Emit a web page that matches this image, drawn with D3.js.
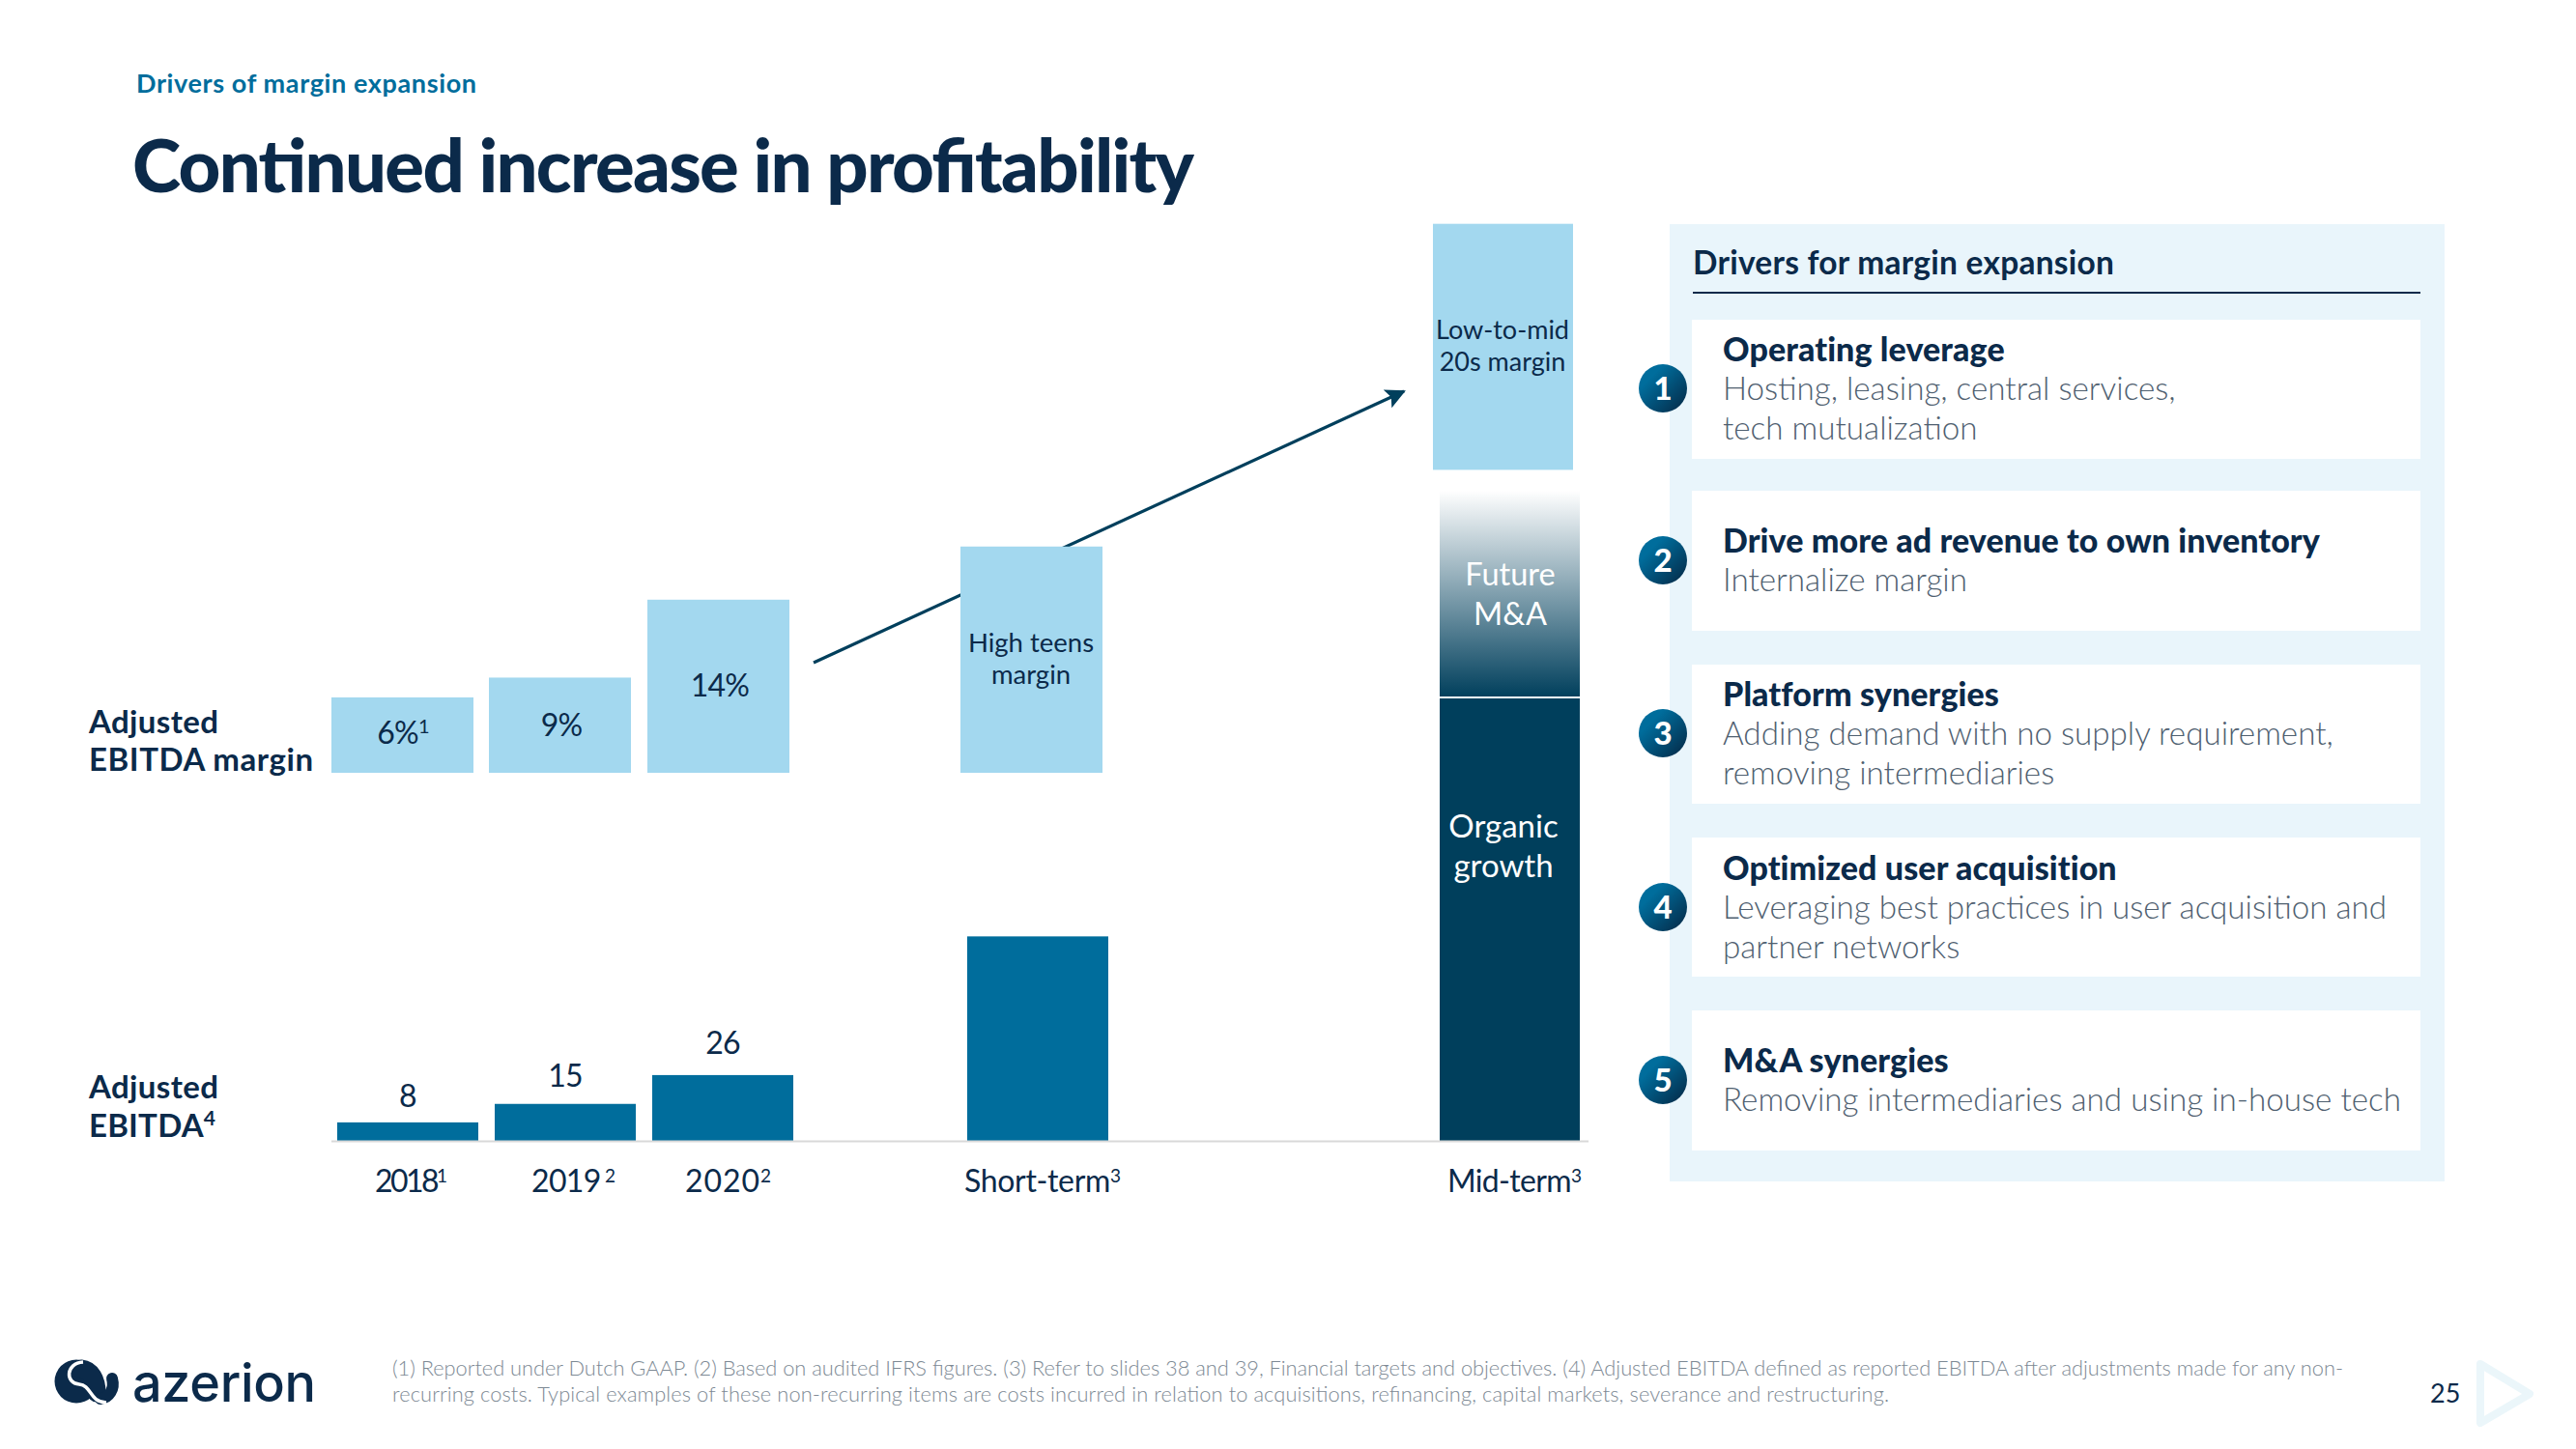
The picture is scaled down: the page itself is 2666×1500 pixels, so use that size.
<!DOCTYPE html>
<html><head><meta charset="utf-8">
<script src="https://d3js.org/d3.v7.min.js"></script>
<style>html,body{margin:0;padding:0;background:#fff}svg{display:block}text{font-family:Lato,sans-serif;fill:#0b2a4a}</style>
</head><body><svg id="c" width="2666" height="1500"></svg>
<script>
// ---- data ----
const categories = ["2018","2019","2020","Short-term","Mid-term"];
const categorySups = ["1"," 2","2","3","3"];
const categorySlots = [0,1,2,4,7];
const marginLabels = ["6%","9%","14%"];
const marginSups = ["1","",""];
const marginValues = [6.1,7.7,14,18.3];
const midMarginBase = 24.5;
const midMarginSpan = 19.9;
const ebitdaLabels = ["8","15","26"];
const ebitdaValues = [7.5,15,26.7,83];
const midOrganic = 180;
const midMA = 84;
const driverTitles = ["Operating leverage","Drive more ad revenue to own inventory","Platform synergies","Optimized user acquisition","M&A synergies"];
const driverLines = [["Hosting, leasing, central services,","tech mutualization"],["Internalize margin"],["Adding demand with no supply requirement,","removing intermediaries"],["Leveraging best practices in user acquisition and","partner networks"],["Removing intermediaries and using in-house tech"]];
const footnotes = ["(1) Reported under Dutch GAAP. (2) Based on audited IFRS figures. (3) Refer to slides 38 and 39, Financial targets and objectives. (4) Adjusted EBITDA defined as reported EBITDA after adjustments made for any non-","recurring costs. Typical examples of these non-recurring items are costs incurred in relation to acquisitions, refinancing, capital markets, severance and restructuring."];

const navy="#0b2a4a", teal="#006d9c", light="#a3d8ef", dark="#003f5c", pale="#e9f5fb", grey="#4f6070";
const svg=d3.select("#c");
const defs=svg.append("defs");
const g1=defs.append("linearGradient").attr("id","ma").attr("x1",0).attr("y1",0).attr("x2",0).attr("y2",1);
g1.append("stop").attr("offset",0).attr("stop-color",dark).attr("stop-opacity",0);
g1.append("stop").attr("offset",1).attr("stop-color",dark);
const g2=defs.append("linearGradient").attr("id","num").attr("x1",0.1).attr("y1",0.1).attr("x2",0.9).attr("y2",0.9);
g2.append("stop").attr("offset",0.2).attr("stop-color",teal);
g2.append("stop").attr("offset",1).attr("stop-color","#04304f");
defs.append("marker").attr("id","ah").attr("viewBox","0 0 10 10").attr("refX",9).attr("refY",5).attr("markerWidth",6.5).attr("markerHeight",6.5).attr("markerUnits","strokeWidth").attr("orient","auto")
 .append("path").attr("d","M0,0L10,5L0,10L2,5Z").attr("fill",dark);

function T(x,y,s,size,o={}){
  const t=svg.append("text").attr("x",x).attr("y",y).attr("font-size",size).attr("font-weight",o.w||400).attr("text-anchor",o.a||"start").text(s);
  t.style("fill",o.c||navy);
  if(o.ls!=null)t.style("letter-spacing",o.ls+"px");
  if(o.len)t.attr("textLength",o.len).attr("lengthAdjust","spacing");
  return t;
}
function sup(t,s,size){t.append("tspan").attr("font-size",size).attr("dy",-size*0.55).text(s);}

// header
T(141,96,"Drivers of margin expansion",27,{w:700,c:teal,len:352});
T(137,199,"Continued increase in profitability",76,{w:900,len:1099});

// scales
const bw=146, base1=800, base2=1181;
const x=d3.scaleLinear().domain([0,7]).range([349,1490]);
const yM=d3.scaleLinear().domain([0,1]).range([base1,base1-12.8]);
const yE=d3.scaleLinear().domain([0,1]).range([base2,base2-2.55]);
const mx=s=>x(s)-6;

// arrow (behind short-term margin box)
svg.append("line").attr("x1",842).attr("y1",686).attr("x2",1453).attr("y2",405).attr("stroke",dark).attr("stroke-width",3.2).attr("marker-end","url(#ah)");

// margin bars
const mShift=[0,0,1,-1];
svg.selectAll(".m").data(marginValues).join("rect").attr("class","m")
 .attr("x",(d,i)=>mx(categorySlots[i])+mShift[i]).attr("width",bw+1).attr("y",d=>yM(d)).attr("height",d=>yM(0)-yM(d)).attr("fill",light);
svg.append("rect").attr("x",mx(7)-1).attr("width",bw-1).attr("y",yM(midMarginBase+midMarginSpan)).attr("height",yM(midMarginBase)-yM(midMarginBase+midMarginSpan)).attr("fill",light);

// ebitda bars
svg.selectAll(".e").data(ebitdaValues).join("rect").attr("class","e")
 .attr("x",(d,i)=>x(categorySlots[i])).attr("width",bw).attr("y",d=>yE(d)).attr("height",d=>yE(0)-yE(d)).attr("fill",teal);
svg.append("rect").attr("x",x(7)).attr("width",bw-1).attr("y",yE(midOrganic)).attr("height",yE(0)-yE(midOrganic)).attr("fill",dark);
svg.append("rect").attr("x",x(7)).attr("width",bw-1).attr("y",yE(midOrganic+midMA)).attr("height",yE(midOrganic)-yE(midOrganic+midMA)).attr("fill","url(#ma)");
svg.append("line").attr("x1",x(7)).attr("x2",x(7)+bw-1).attr("y1",yE(midOrganic)).attr("y2",yE(midOrganic)).attr("stroke","#fff").attr("stroke-width",2);
svg.append("line").attr("x1",343).attr("x2",1644).attr("y1",base2+.5).attr("y2",base2+.5).attr("stroke","#d9d9d9").attr("stroke-width",2);

// value labels
const marginY=[770,762,721], marginX=[417,581,745];
marginLabels.forEach((s,i)=>{const t=T(marginX[i],marginY[i],s,32,{a:"middle",ls:-.8});if(marginSups[i])sup(t,marginSups[i],20);});
const ebY=[1146,1125,1091];
ebitdaLabels.forEach((s,i)=>T(x(i)+73,ebY[i],s,32,{a:"middle",ls:-.8}));
const catX=[388,550,709,998,1498], catLen=[75,87,89,162,139];
categories.forEach((s,i)=>{const t=T(catX[i],1234,s,32,{len:catLen[i]});sup(t,categorySups[i],19);});

// row labels
T(92,759,"Adjusted",33,{w:700,len:134});
T(92,798,"EBITDA margin",33,{w:700,len:232});
T(92,1137,"Adjusted",33,{w:700,len:134});
const et=T(92,1177,"EBITDA",33,{w:700,len:131});sup(et,"4",21);

// in-bar texts
T(1067,675,"High teens",27.5,{a:"middle"});T(1067,708,"margin",27.5,{a:"middle"});
T(1555,351,"Low-to-mid",27,{a:"middle"});T(1555,384,"20s margin",27,{a:"middle"});
T(1563,606,"Future",32.5,{a:"middle",c:"#fff"});T(1563,647,"M&A",32.5,{a:"middle",c:"#fff"});
T(1556,867,"Organic",33,{a:"middle",c:"#fff"});T(1556,908,"growth",33,{a:"middle",c:"#fff"});

// right panel
svg.append("rect").attr("x",1728).attr("y",232).attr("width",802).attr("height",991).attr("fill",pale);
T(1752,284,"Drivers for margin expansion",33.5,{w:700,len:436});
svg.append("line").attr("x1",1752).attr("x2",2505).attr("y1",303).attr("y2",303).attr("stroke",navy).attr("stroke-width",2);
const cardTop=[331,508,688,867,1046], cardBot=[475,653,832,1011,1191];
const circY=[402,580,759,939,1118];
const titleY=[374,572,731,911,1110];
svg.selectAll(".card").data(cardTop).join("rect").attr("class","card").attr("x",1751).attr("width",754).attr("y",d=>d).attr("height",(d,i)=>cardBot[i]-d).attr("fill","#fff");
driverTitles.forEach((s,i)=>{
  T(1783,titleY[i],s,34,{w:900,ls:.1});
  driverLines[i].forEach((l,j)=>T(1783,titleY[i]+40+j*40.5,l,33.2,{w:300,c:grey}));
  svg.append("circle").attr("cx",1721).attr("cy",circY[i]).attr("r",25).attr("fill","url(#num)");
  T(1721,circY[i]+12,String(i+1),33,{w:900,a:"middle",c:"#fff"});
});

// footer
const footLen=[2019,1549];
footnotes.forEach((s,i)=>T(406,1424+i*27,s,21.8,{w:300,c:"#7d8994",len:footLen[i]}));
T(2515,1452,"25",27);
svg.append("path").attr("d","M2567,1412L2618,1443L2567,1473Z").attr("fill","none").attr("stroke","#ebf6fa").attr("stroke-width",8).attr("stroke-linejoin","round");
// logo
const lg=svg.append("g");
lg.append("circle").attr("cx",79).attr("cy",1430).attr("r",22.5).attr("fill",navy);
lg.append("path").attr("d","M84,1417C94,1418 100,1428 100,1442").attr("fill","none").attr("stroke",navy).attr("stroke-width",19).attr("stroke-linecap","round");
lg.append("path").attr("d","M116,1427C119,1438 113,1447 104,1448").attr("fill","none").attr("stroke",navy).attr("stroke-width",12).attr("stroke-linecap","round");
lg.append("path").attr("d","M86,1410C68,1411 67,1432 82,1433C95,1434 92,1451 110,1452").attr("fill","none").attr("stroke","#fff").attr("stroke-width",3.5);
T(137,1451,"azerion",54,{w:500,len:190,c:navy}).style("font-family","Inter");
</script></body></html>
